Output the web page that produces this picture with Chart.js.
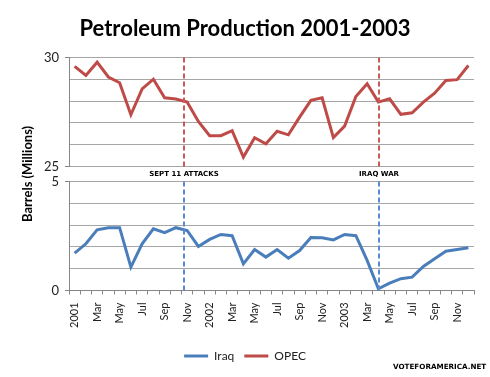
<!DOCTYPE html>
<html>
<head>
<meta charset="utf-8">
<script src="https://cdn.jsdelivr.net/npm/chart.js@4.4.1/dist/chart.umd.min.js"></script>
<style>
  html, body { margin: 0; padding: 0; background: #fff; }
  #wrap { position: relative; width: 490px; height: 377px; }
  #credit { position: absolute; left: 393px; top: 362px; font: bold 7.2px "DejaVu Sans", sans-serif; color: #000; }
</style>
</head>
<body>
<div id="wrap">
  <canvas id="oilChart" width="490" height="377"></canvas>
  <div id="credit">VOTEFORAMERICA.NET</div>
</div>
<script>
const months = ['2001', 'Feb', 'Mar', 'Apr', 'May', 'Jun', 'Jul', 'Aug', 'Sep', 'Oct', 'Nov', 'Dec',
  '2002', 'Feb', 'Mar', 'Apr', 'May', 'Jun', 'Jul', 'Aug', 'Sep', 'Oct', 'Nov', 'Dec',
  '2003', 'Feb', 'Mar', 'Apr', 'May', 'Jun', 'Jul', 'Aug', 'Sep', 'Oct', 'Nov', 'Dec'];

// barrels per day, millions
const iraq = [1.71, 2.14, 2.78, 2.88, 2.88, 1.07, 2.14, 2.83, 2.65, 2.88, 2.75, 2.02,
  2.34, 2.57, 2.51, 1.22, 1.88, 1.53, 1.88, 1.48, 1.83, 2.43, 2.42, 2.32,
  2.57, 2.51, 1.38, 0.08, 0.34, 0.54, 0.61, 1.10, 1.45, 1.80, 1.88, 1.96];
const opec = [29.59, 29.17, 29.78, 29.10, 28.84, 27.37, 28.56, 29.00, 28.15, 28.09, 27.95, 27.06,
  26.41, 26.41, 26.64, 25.43, 26.32, 26.04, 26.61, 26.45, 27.26, 28.03, 28.15, 26.32,
  26.85, 28.21, 28.79, 27.95, 28.10, 27.39, 27.46, 27.95, 28.36, 28.94, 28.98, 29.63];

const eventNames = ['SEPT 11 ATTACKS', 'IRAQ WAR'];
const eventAt = [9.75, 27.05]; // position on the month axis

const gridGray = '#a6a6a6';
const axisGray = '#868686';

// dashed markers, red over the OPEC panel and blue over the Iraq panel
const eventLines = {
  id: 'eventLines',
  afterDatasetsDraw(chart) {
    const { ctx, scales } = chart;
    const top = scales.yOpec, bot = scales.yIraq;
    ctx.save();
    ctx.lineWidth = 2;
    ctx.setLineDash([5, 3]);
    eventAt.forEach((v, i) => {
      const x = Math.round(scales.x.getPixelForValue(v));
      ctx.strokeStyle = '#c9595a';
      ctx.beginPath();
      ctx.moveTo(x, top.top);
      ctx.lineTo(x, top.bottom);
      ctx.stroke();
      ctx.strokeStyle = '#5b8bd0';
      ctx.beginPath();
      ctx.moveTo(x, bot.top);
      ctx.lineTo(x, bot.bottom);
      ctx.stroke();
      ctx.fillStyle = '#000';
      ctx.font = 'bold 7px "DejaVu Sans"';
      ctx.textAlign = 'center';
      ctx.textBaseline = 'middle';
      ctx.fillText(eventNames[i], x, (top.bottom + bot.top) / 2);
    });
    ctx.restore();
  }
};

const yTickColor = ctx => (ctx.tick && ctx.tick.value % 5 === 0) ? axisGray : 'rgba(0,0,0,0)';
const fixWidth = s => { s.width = 53; };

new Chart(document.getElementById('oilChart'), {
  type: 'line',
  data: {
    labels: months,
    datasets: [
      { label: 'Iraq', data: iraq, yAxisID: 'yIraq', borderColor: '#4a7ebb', backgroundColor: '#4a7ebb',
        borderWidth: 3, pointRadius: 0, tension: 0 },
      { label: 'OPEC', data: opec, yAxisID: 'yOpec', borderColor: '#be4b48', backgroundColor: '#be4b48',
        borderWidth: 3, pointRadius: 0, tension: 0 }
    ]
  },
  options: {
    responsive: false,
    animation: false,
    layout: { padding: { left: 16, right: 16, top: 0, bottom: 5 } },
    plugins: {
      title: {
        display: true,
        text: 'Petroleum Production 2001-2003',
        color: '#000',
        font: { family: 'Lato', size: 22, weight: 'bold' },
        padding: { top: 16, bottom: 15 }
      },
      legend: {
        position: 'bottom',
        labels: {
          boxWidth: 24,
          boxHeight: 3,
          padding: 10,
          color: '#222',
          font: { family: 'Lato', size: 12 },
          generateLabels(chart) {
            const items = Chart.defaults.plugins.legend.labels.generateLabels(chart);
            items.forEach(it => { it.fillStyle = it.strokeStyle; it.lineWidth = 0; });
            return items;
          }
        }
      },
      tooltip: { enabled: false }
    },
    scales: {
      x: {
        offset: true,
        afterFit: s => { s.height += 4; },
        grid: { offset: true, drawOnChartArea: false, tickLength: 4, color: axisGray },
        border: { color: axisGray },
        ticks: {
          autoSkip: false, minRotation: 90, maxRotation: 90, padding: 8,
          color: '#222', font: { family: 'Lato', size: 11 },
          callback(v, i) { return i % 2 === 0 ? this.getLabelForValue(v) : ''; }
        }
      },
      yOpec: {
        position: 'left', stack: 'panels', stackWeight: 109, weight: 3,
        min: 25, max: 30,
        afterFit: fixWidth,
        grid: { color: gridGray, tickLength: 4, tickColor: yTickColor },
        border: { color: axisGray },
        ticks: { stepSize: 1, autoSkip: false, maxTicksLimit: 20, padding: 6, color: '#222',
          font: { family: 'Lato', size: 13 },
          callback: v => (v % 5 === 0 ? v : '') }
      },
      yGap: {
        type: 'linear', position: 'left', stack: 'panels', stackWeight: 15, weight: 2,
        afterFit: fixWidth,
        grid: { display: false },
        border: { display: false },
        ticks: { display: false },
        title: { display: true, text: 'Barrels (Millions)', color: '#000',
          font: { family: 'Lato', size: 13, weight: 'bold' }, padding: { top: 4, bottom: 0 } }
      },
      yIraq: {
        position: 'left', stack: 'panels', stackWeight: 109, weight: 1,
        min: 0, max: 5,
        afterFit: fixWidth,
        grid: { color: gridGray, tickLength: 4, tickColor: yTickColor },
        border: { color: axisGray },
        ticks: { stepSize: 1, autoSkip: false, maxTicksLimit: 20, padding: 6, color: '#222',
          font: { family: 'Lato', size: 13 },
          callback: v => (v % 5 === 0 ? v : '') }
      }
    }
  },
  plugins: [eventLines]
});
</script>
</body>
</html>
